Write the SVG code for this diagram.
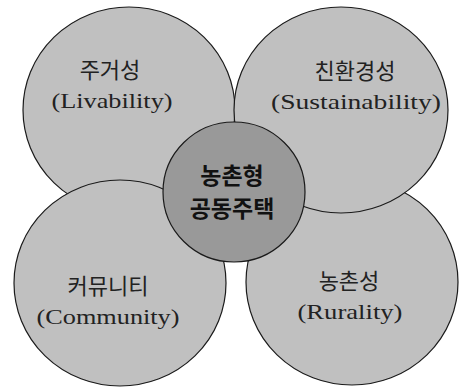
<svg xmlns="http://www.w3.org/2000/svg" width="459" height="388" viewBox="0 0 459 388">
<style>
.outer{fill:#c0c0c0;stroke:#1a1a1a;stroke-width:1.2}
.core{fill:#999999;stroke:#1a1a1a;stroke-width:1.2}
.ko{font-family:"Liberation Serif","Noto Sans CJK KR",serif;font-size:22px;fill:#222;text-anchor:middle}
.en{font-family:"Liberation Serif","Noto Sans CJK KR",serif;font-size:22px;fill:#222;text-anchor:middle}
.kb{font-family:"Noto Sans CJK KR",sans-serif;font-size:23px;font-weight:bold;fill:#111;text-anchor:middle}
</style>
<rect width="459" height="388" fill="#fff"/>
<g id="livability">
<ellipse class="outer" cx="129" cy="110" rx="106" ry="103"/>
<text class="ko" x="110" y="78">주거성</text>
<text class="en" x="112" y="108" textLength="121" lengthAdjust="spacingAndGlyphs">(Livability)</text>
</g>
<g id="community">
<ellipse class="outer" cx="120" cy="283" rx="106" ry="103"/>
<text class="ko" x="108" y="294">커뮤니티</text>
<text class="en" x="108" y="324" textLength="143" lengthAdjust="spacingAndGlyphs">(Community)</text>
</g>
<g id="rurality">
<ellipse class="outer" cx="352" cy="282" rx="106" ry="103"/>
<text class="ko" x="349" y="289">농촌성</text>
<text class="en" x="350" y="319" textLength="105" lengthAdjust="spacingAndGlyphs">(Rurality)</text>
</g>
<g id="sustainability">
<ellipse class="outer" cx="341" cy="110" rx="107" ry="103"/>
<text class="ko" x="355" y="79">친환경성</text>
<text class="en" x="356" y="109" textLength="170" lengthAdjust="spacingAndGlyphs">(Sustainability)</text>
</g>
<g id="core">
<ellipse class="core" cx="234" cy="192" rx="71" ry="70"/>
<text class="kb" x="232" y="184">농촌형</text>
<text class="kb" x="232" y="217">공동주택</text>
</g>
<g id="connectors"></g>
</svg>
